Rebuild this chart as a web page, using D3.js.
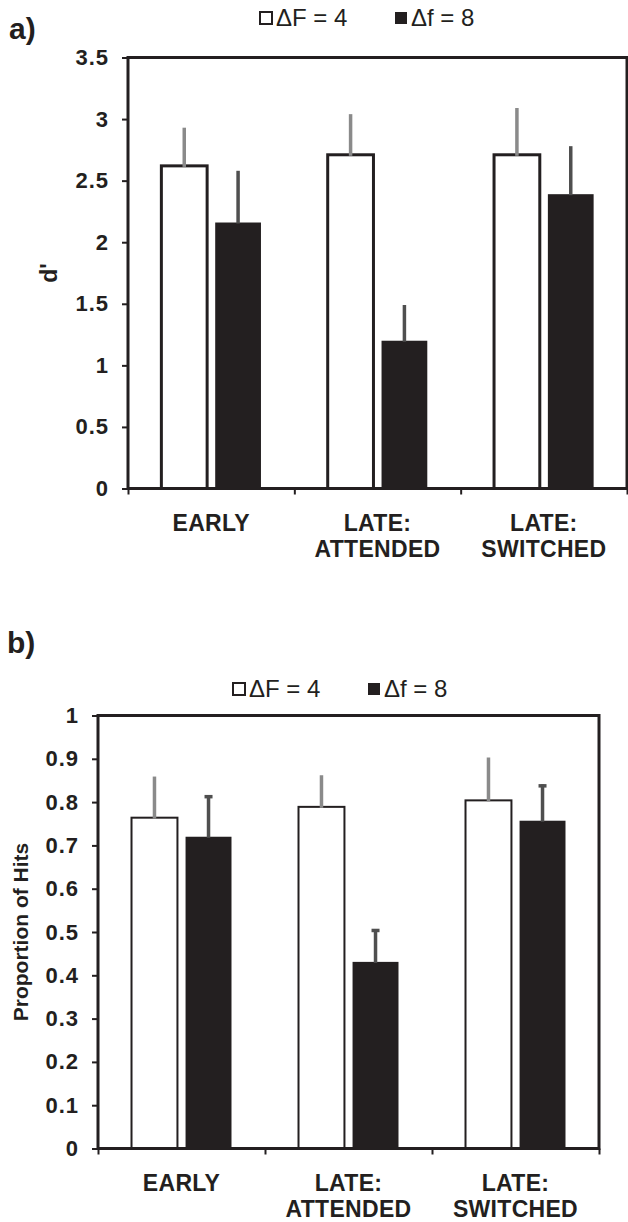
<!DOCTYPE html>
<html>
<head>
<meta charset="utf-8">
<script src="https://cdn.jsdelivr.net/npm/d3@7"></script>
<style>
  html, body { margin: 0; padding: 0; background: #ffffff; }
  svg { display: block; }
  text { font-family: "Liberation Sans", Arial, Helvetica, sans-serif; fill: #231f20; }
</style>
</head>
<body>
<svg id="chart" width="628" height="1222"></svg>
<script>
// ---------------- data ----------------
const categories = ["EARLY", "LATE: ATTENDED", "LATE: SWITCHED"];
const categoryLines = [["EARLY"], ["LATE:", "ATTENDED"], ["LATE:", "SWITCHED"]];
const seriesNames = ["\u0394F = 4", "\u0394f = 8"];

// panel a: d'
const dprimeF4 = [2.62, 2.71, 2.71];
const dprimeF4Err = [0.31, 0.33, 0.38];
const dprimeF8 = [2.16, 1.20, 2.39];
const dprimeF8Err = [0.42, 0.29, 0.39];
const dprimeTicks = [0, 0.5, 1, 1.5, 2, 2.5, 3, 3.5];

// panel b: proportion of hits
const hitsF4 = [0.764, 0.789, 0.804];
const hitsF4Err = [0.095, 0.073, 0.099];
const hitsF8 = [0.720, 0.431, 0.757];
const hitsF8Err = [0.096, 0.076, 0.084];
const hitsTicks = [0, 0.1, 0.2, 0.3, 0.4, 0.5, 0.6, 0.7, 0.8, 0.9, 1];

// ---------------- drawing ----------------
const INK = "#231f20";
const svg = d3.select("#chart");

function panel(cfg) {
  const g = svg.append("g");
  const { left, right, top, bottom } = cfg;

  const y = d3.scaleLinear().domain([0, cfg.yMax]).range([bottom, top]);
  const x0 = d3.scaleBand().domain(categories).range([left, right]).padding(0);
  const x1 = d3.scaleBand().domain(seriesNames).range([0, x0.bandwidth()])
    .paddingInner(0.15).paddingOuter(0.62);
  const xb = d3.scaleLinear().domain([0, categories.length]).range([left, right]);

  const rows = categories.map((c, i) => ({
    cat: c,
    bars: [
      { s: seriesNames[0], v: cfg.f4[i], e: cfg.f4Err[i] },
      { s: seriesNames[1], v: cfg.f8[i], e: cfg.f8Err[i] }
    ]
  }));

  // bars
  const grp = g.selectAll("g.cat").data(rows).join("g")
    .attr("transform", d => `translate(${x0(d.cat)},0)`);

  grp.selectAll("rect.bar").data(d => d.bars).join("rect")
    .attr("x", d => x1(d.s))
    .attr("width", x1.bandwidth())
    .attr("y", d => y(d.v))
    .attr("height", d => y(0) - y(d.v))
    .attr("fill", (d, i) => i === 0 ? "#ffffff" : INK)
    .attr("stroke", (d, i) => i === 0 ? INK : "none")
    .attr("stroke-width", cfg.barStroke);

  // error bars
  grp.selectAll("line.err").data(d => d.bars).join("line")
    .attr("x1", d => x1(d.s) + x1.bandwidth() / 2)
    .attr("x2", d => x1(d.s) + x1.bandwidth() / 2)
    .attr("y1", d => y(d.v) + 1)
    .attr("y2", d => y(d.v + d.e))
    .attr("stroke", (d, i) => i === 0 ? "#8a8a8a" : "#4f4f4f")
    .attr("stroke-width", 3.5);

  if (cfg.caps) {
    grp.selectAll("line.cap").data(d => d.bars.filter((b, i) => i === 1)).join("line")
      .attr("x1", d => x1(d.s) + x1.bandwidth() / 2 - 4)
      .attr("x2", d => x1(d.s) + x1.bandwidth() / 2 + 4)
      .attr("y1", d => y(d.v + d.e) + 1.5)
      .attr("y2", d => y(d.v + d.e) + 1.5)
      .attr("stroke", "#4f4f4f")
      .attr("stroke-width", 3.5);
  }

  // y axis ticks + labels
  const yAxis = d3.axisLeft(y).tickValues(cfg.ticks).tickSize(6).tickSizeOuter(0)
    .tickPadding(13).tickFormat(d3.format("~g"));
  const ya = g.append("g").attr("transform", `translate(${left},0)`).call(yAxis);
  ya.select(".domain").remove();
  ya.selectAll(".tick line").attr("stroke", INK).attr("stroke-width", 2);
  ya.selectAll(".tick text")
    .attr("font-size", 22).attr("font-weight", "bold")
    .attr("letter-spacing", 1)
    .attr("font-family", '"Liberation Sans", Arial, sans-serif')
    .attr("fill", INK);

  // bottom ticks at category boundaries
  const xAxis = d3.axisBottom(xb).tickValues(d3.range(categories.length + 1))
    .tickSize(6).tickSizeOuter(0).tickFormat("");
  const xa = g.append("g").attr("transform", `translate(0,${bottom})`).call(xAxis);
  xa.select(".domain").remove();
  xa.selectAll(".tick line").attr("stroke", INK).attr("stroke-width", 2);

  // frame
  g.append("rect")
    .attr("x", left).attr("y", top)
    .attr("width", right - left).attr("height", bottom - top)
    .attr("fill", "none").attr("stroke", INK).attr("stroke-width", 3);

  // category labels
  const lab = g.selectAll("text.cat").data(categoryLines).join("text")
    .attr("text-anchor", "middle")
    .attr("font-size", 23).attr("font-weight", "bold")
    .attr("letter-spacing", 0.3)
    .attr("x", (d, i) => x0(categories[i]) + x0.bandwidth() / 2)
    .attr("y", bottom + 42);
  lab.selectAll("tspan").data(d => d).join("tspan")
    .attr("x", function () { return this.parentNode.getAttribute("x"); })
    .attr("dy", (d, i) => i === 0 ? 0 : 26)
    .text(d => d);

  // y title
  g.append("text")
    .attr("transform", `translate(${cfg.titleX},${(top + bottom) / 2}) rotate(-90)`)
    .attr("text-anchor", "middle")
    .attr("font-size", cfg.titleSize).attr("font-weight", "bold")
    .text(cfg.title);

  // panel label
  g.append("text")
    .attr("x", cfg.panelX).attr("y", cfg.panelY)
    .attr("font-size", 30).attr("font-weight", "bold")
    .text(cfg.panel);

  // legend
  const lg = g.append("g");
  seriesNames.forEach((s, i) => {
    const lx = cfg.legendX[i];
    lg.append("rect")
      .attr("x", lx).attr("y", cfg.legendY - 14)
      .attr("width", 12).attr("height", 12)
      .attr("fill", i === 0 ? "#ffffff" : INK)
      .attr("stroke", INK).attr("stroke-width", i === 0 ? 2 : 0);
    lg.append("text")
      .attr("x", lx + 16).attr("y", cfg.legendY)
      .attr("font-size", 24)
      .text(s);
  });
}

panel({
  left: 128, right: 627, top: 57.5, bottom: 488.5,
  yMax: 3.5, ticks: dprimeTicks,
  f4: dprimeF4, f4Err: dprimeF4Err, f8: dprimeF8, f8Err: dprimeF8Err,
  barStroke: 3, caps: false,
  title: "d'", titleX: 57, titleSize: 23,
  panel: "a)", panelX: 9, panelY: 39,
  legendX: [260, 395], legendY: 26
});

panel({
  left: 98, right: 599, top: 715.5, bottom: 1148.5,
  yMax: 1, ticks: hitsTicks,
  f4: hitsF4, f4Err: hitsF4Err, f8: hitsF8, f8Err: hitsF8Err,
  barStroke: 2, caps: true,
  title: "Proportion of Hits", titleX: 28, titleSize: 21,
  panel: "b)", panelX: 7, panelY: 653,
  legendX: [233, 368], legendY: 697
});
</script>
</body>
</html>
